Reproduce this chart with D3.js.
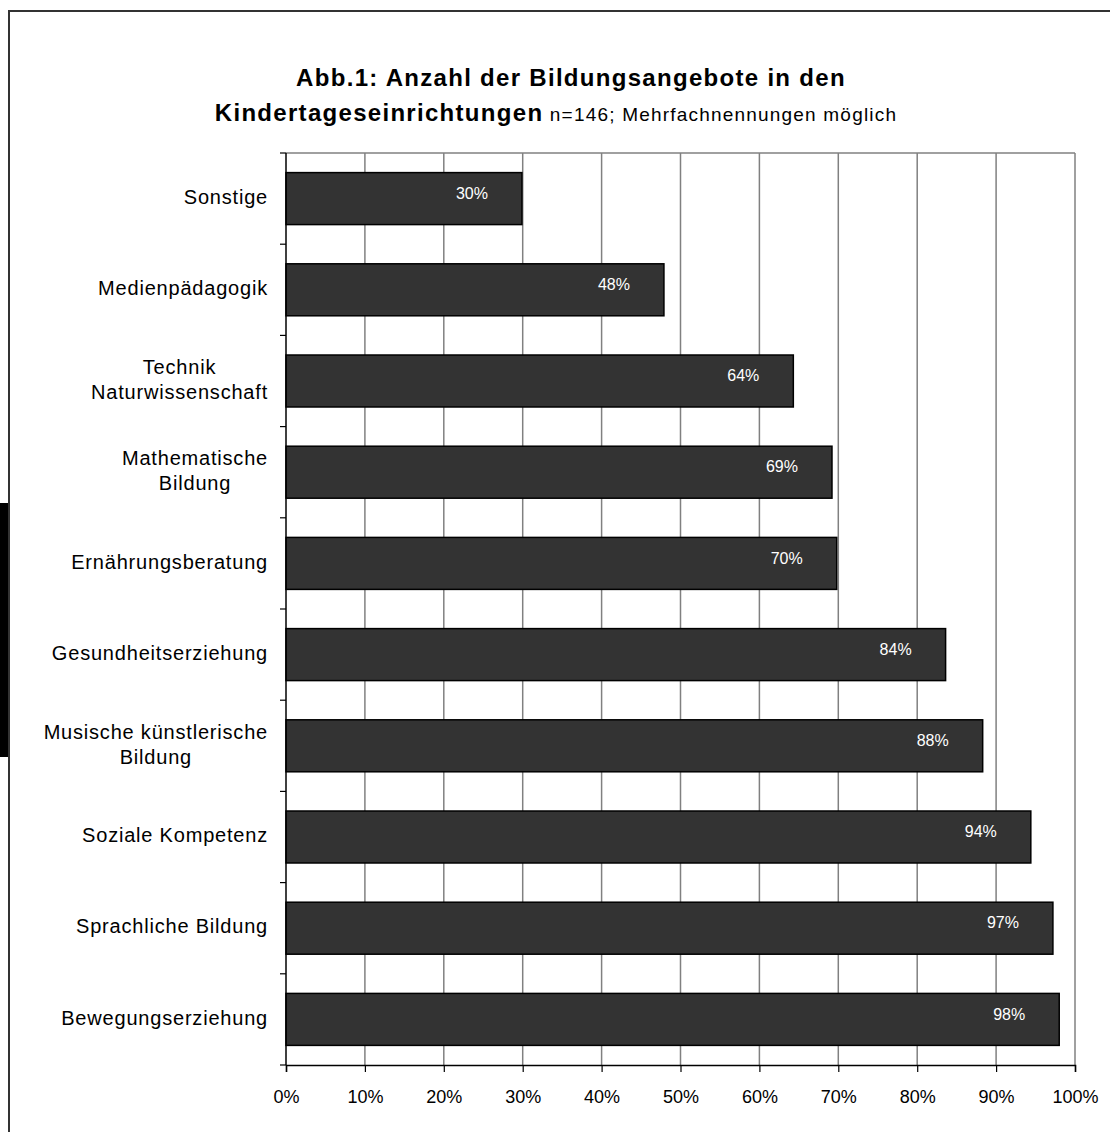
<!DOCTYPE html>
<html>
<head>
<meta charset="utf-8">
<script src="https://cdn.jsdelivr.net/npm/d3@7"></script>
<style>
  body { margin: 0; background: #fff; }
  svg { display: block; font-family: "Liberation Sans", Arial, sans-serif; }
</style>
</head>
<body>
<svg width="1110" height="1132"></svg>
<script>
const width = 1110;
const height = 1132;

// categories from top to bottom as drawn
const categories = [
  ["Sonstige"],
  ["Medienpädagogik"],
  ["Technik", "Naturwissenschaft"],
  ["Mathematische", "Bildung"],
  ["Ernährungsberatung"],
  ["Gesundheitserziehung"],
  ["Musische künstlerische", "Bildung"],
  ["Soziale Kompetenz"],
  ["Sprachliche Bildung"],
  ["Bewegungserziehung"]
];
const percents = [29.9, 47.9, 64.3, 69.2, 69.8, 83.6, 88.3, 94.4, 97.2, 98.0];
const tickValues = [0, 10, 20, 30, 40, 50, 60, 70, 80, 90, 100];

const titleLine1 = "Abb.1: Anzahl der Bildungsangebote in den";
const titleLine2 = "Kindertageseinrichtungen";
const titleNote = " n=146; Mehrfachnennungen möglich";

const svg = d3.select("svg");

// outer frame (runs off the right/bottom edge)
svg.append("rect")
  .attr("x", 9).attr("y", 11)
  .attr("width", 1200).attr("height", 1200)
  .attr("fill", "none")
  .attr("stroke", "#333")
  .attr("stroke-width", 2);

// dark strip at the left edge
svg.append("rect")
  .attr("x", 0).attr("y", 503)
  .attr("width", 8).attr("height", 254)
  .attr("fill", "#000");

const plot = {left: 286, right: 1075, top: 153, bottom: 1065};

const x = d3.scaleLinear()
  .domain([0, 100])
  .range([plot.left, plot.right]);

const y = d3.scaleBand()
  .domain(d3.range(categories.length))
  .range([plot.top, plot.bottom])
  .paddingInner(0.43)
  .paddingOuter(0.215);

// grid lines
svg.append("g")
  .selectAll("line")
  .data(tickValues.slice(1))
  .enter().append("line")
  .attr("x1", d => x(d)).attr("x2", d => x(d))
  .attr("y1", plot.top).attr("y2", plot.bottom)
  .attr("stroke", "#808080")
  .attr("stroke-width", 1.5);

svg.append("line")
  .attr("x1", plot.left).attr("x2", plot.right)
  .attr("y1", plot.top).attr("y2", plot.top)
  .attr("stroke", "#808080")
  .attr("stroke-width", 1.5);

// bars
svg.append("g")
  .selectAll("rect")
  .data(percents)
  .enter().append("rect")
  .attr("x", x(0))
  .attr("y", (d, i) => y(i))
  .attr("width", d => x(d) - x(0))
  .attr("height", y.bandwidth())
  .attr("fill", "#333333")
  .attr("stroke", "#000")
  .attr("stroke-width", 1.5);

// value labels inside bar ends
svg.append("g")
  .selectAll("text")
  .data(percents)
  .enter().append("text")
  .attr("x", d => x(d) - 50)
  .attr("y", (d, i) => y(i) + y.bandwidth() / 2 - 4)
  .attr("text-anchor", "middle")
  .attr("dominant-baseline", "middle")
  .attr("fill", "#fff")
  .attr("font-size", 16)
  .text(d => Math.round(d) + "%");

// x axis
const xAxis = d3.axisBottom(x)
  .tickValues(tickValues)
  .tickFormat(d => d + "%")
  .tickSize(7)
  .tickPadding(18);

const gx = svg.append("g")
  .attr("transform", `translate(0,${plot.bottom})`)
  .call(xAxis);
gx.select(".domain").attr("stroke", "#000").attr("stroke-width", 1.5);
gx.selectAll(".tick line").attr("stroke", "#000").attr("stroke-width", 1.2);
gx.selectAll(".tick text")
  .attr("font-size", 18)
  .attr("font-family", "Liberation Sans, Arial, sans-serif")
  .attr("fill", "#000");

// y axis line with ticks at category boundaries
svg.append("line")
  .attr("x1", plot.left).attr("x2", plot.left)
  .attr("y1", plot.top).attr("y2", plot.bottom)
  .attr("stroke", "#000")
  .attr("stroke-width", 1.5);

svg.append("g")
  .selectAll("line")
  .data(d3.range(categories.length + 1))
  .enter().append("line")
  .attr("x1", plot.left - 6).attr("x2", plot.left)
  .attr("y1", i => plot.top + i * y.step())
  .attr("y2", i => plot.top + i * y.step())
  .attr("stroke", "#000")
  .attr("stroke-width", 1.2);

// category labels
const lineH = 25;
const catLabels = svg.append("g")
  .selectAll("text")
  .data(categories)
  .enter().append("text")
  .attr("font-size", 20)
  .attr("letter-spacing", 0.8)
  .attr("fill", "#000")
  .attr("text-anchor", "middle");

catLabels.each(function(lines, i) {
  const t = d3.select(this);
  const cy = y(i) + y.bandwidth() / 2;
  // centre the block so that its widest line ends just left of the axis
  t.selectAll("tspan")
    .data(lines)
    .enter().append("tspan")
    .attr("y", (d, j) => cy + (j - (lines.length - 1) / 2) * lineH)
    .attr("dominant-baseline", "middle")
    .text(d => d);
  let w = 0;
  t.selectAll("tspan").each(function() {
    w = Math.max(w, this.getComputedTextLength());
  });
  t.selectAll("tspan").attr("x", plot.left - 18 - w / 2);
});

// title
const title = svg.append("text")
  .attr("text-anchor", "middle")
  .attr("fill", "#000");

title.append("tspan")
  .attr("x", 571).attr("y", 86)
  .attr("font-size", 24)
  .attr("letter-spacing", 1.3)
  .attr("font-weight", "bold")
  .text(titleLine1);

title.append("tspan")
  .attr("x", 556).attr("y", 121)
  .attr("font-size", 24)
  .attr("letter-spacing", 1.3)
  .attr("font-weight", "bold")
  .text(titleLine2)
  .append("tspan")
  .attr("font-size", 19)
  .attr("letter-spacing", 1.2)
  .attr("font-weight", "normal")
  .text(titleNote);
</script>
</body>
</html>
